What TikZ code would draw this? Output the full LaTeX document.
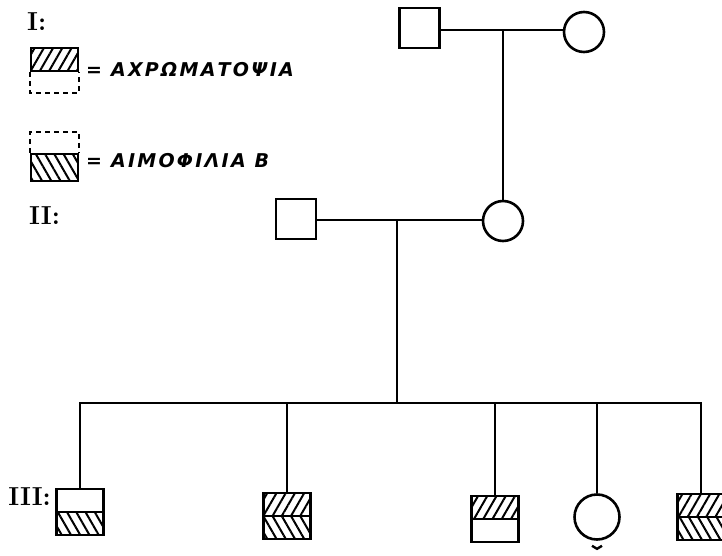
\documentclass[tikz,border=0pt]{standalone}
\usepackage{fontspec}
\usetikzlibrary{patterns.meta}
\newfontfamily\greekhand{DejaVu Sans}[LetterSpace=12]
\tikzset{
  sym/.style={draw, line width=2.6pt, inner sep=0pt},
  male/.style={sym, rectangle, minimum width=40pt, minimum height=40pt},
  female/.style={sym, circle, minimum size=40pt},
  child/.style={sym, rectangle, minimum width=47pt, minimum height=46pt},
  conn/.style={line width=2.4pt},
  hatchA/.style={pattern={Lines[angle=60,distance=8pt,line width=2pt]}},
  hatchB/.style={pattern={Lines[angle=-60,distance=8pt,line width=2pt]}},
  topA/.style={path picture={
      \fill[hatchA] (path picture bounding box.north west) rectangle (path picture bounding box.east);
      \draw[line width=2.6pt] (path picture bounding box.west) -- (path picture bounding box.east);}},
  botB/.style={path picture={
      \fill[hatchB] (path picture bounding box.west) rectangle (path picture bounding box.south east);
      \draw[line width=2.6pt] (path picture bounding box.west) -- (path picture bounding box.east);}},
  bothAB/.style={path picture={
      \fill[hatchA] (path picture bounding box.north west) rectangle (path picture bounding box.east);
      \fill[hatchB] (path picture bounding box.west) rectangle (path picture bounding box.south east);
      \draw[line width=2.6pt] (path picture bounding box.west) -- (path picture bounding box.east);}},
  legdash/.style={line width=2pt, dash pattern=on 5pt off 4pt},
  lbl/.style={font=\greekhand\bfseries\itshape\fontsize{19}{19}\selectfont, anchor=west, inner sep=0pt},
  roman/.style={font=\bfseries\fontsize{26}{26}\selectfont, inner sep=0pt},
}
\begin{document}
\begin{tikzpicture}[x=1pt,y=-1pt]
\useasboundingbox (0,0) rectangle (722,556);
\clip (0,0) rectangle (722,556);
% generation labels
\node[roman, anchor=west] (gI) at (27,22) {I:};
\node[roman, anchor=west] (gII) at (29,216) {II:};
\node[roman, anchor=east] (gIII) at (51,497) {III:};
% legend
\node[sym, rectangle, minimum width=47pt, minimum height=23pt, hatchA] (leg1) at (54.5,59.5) {};
\draw[legdash] (leg1.south west) -- ([yshift=-21pt]leg1.south west) -- ([yshift=-21pt]leg1.south east) -- (leg1.south east);
\node[lbl] (t1) at (86,70) {= ΑΧΡΩΜΑΤΟΨΙΑ};
\node[sym, rectangle, minimum width=47pt, minimum height=27pt, hatchB] (leg2) at (54.5,167.5) {};
\draw[legdash] (leg2.north west) -- ([yshift=21pt]leg2.north west) -- ([yshift=21pt]leg2.north east) -- (leg2.north east);
\node[lbl] (t2) at (86,161) {= ΑΙΜΟΦΙΛΙΑ Β};
% generation I
\node[male] (I1) at (419.5,28) {};
\node[female] (I2) at (584,32) {};
\coordinate (m1) at (503,30);
\draw[conn] (I1.east |- m1) -- (I2.west |- m1);
% generation II
\node[male] (II1) at (296,219) {};
\node[female] (II2) at (503,221) {};
\draw[conn] (m1) -- (II2.north);
\coordinate (m2) at (397,220);
\draw[conn] (II1.east |- m2) -- (II2.west |- m2);
\coordinate (s) at (397,403);
\draw[conn] (m2) -- (s);
% generation III
\node[child, botB] (c1) at (80,512) {};
\node[child, bothAB] (c2) at (287,516) {};
\node[child, topA] (c3) at (495,519) {};
\node[sym, circle, minimum size=45pt] (c4) at (597,517) {};
\node[child, bothAB] (c5) at (701,517) {};
\draw[conn] (c1.north) -- (c1.north |- s) -- (c5.north |- s) -- (c5.north);
\draw[conn] (c2.north |- s) -- (c2.north);
\draw[conn] (c3.north |- s) -- (c3.north);
\draw[conn] (c4.north |- s) -- (c4.north);
\draw[line width=2.4pt] ([xshift=-5pt,yshift=-5pt]c4.south) -- ([yshift=-8pt]c4.south) -- ([xshift=5pt,yshift=-5pt]c4.south);
\end{tikzpicture}
\end{document}
